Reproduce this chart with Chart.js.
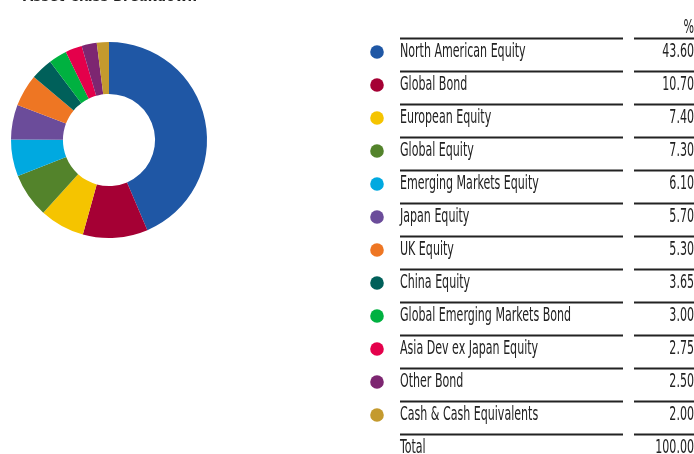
<!DOCTYPE html>
<html>
<head>
<meta charset="utf-8">
<script src="https://cdn.jsdelivr.net/npm/chart.js@4"></script>
<style>
  html, body { margin: 0; padding: 0; background: #fff; }
  #wrap { position: relative; width: 694px; height: 454px; }
</style>
</head>
<body>
<div id="wrap"><canvas id="assetChart" width="694" height="454"></canvas></div>
<script>
// Datos del gráfico
var categories = [
  "North American Equity",
  "Global Bond",
  "European Equity",
  "Global Equity",
  "Emerging Markets Equity",
  "Japan Equity",
  "UK Equity",
  "China Equity",
  "Global Emerging Markets Bond",
  "Asia Dev ex Japan Equity",
  "Other Bond",
  "Cash & Cash Equivalents",
];
var weights = [43.6, 10.7, 7.4, 7.3, 6.1, 5.7, 5.3, 3.65, 3.0, 2.75, 2.5, 2.0];
var totalLabel = "Total";
var totalValue = 100.0;
var chartTitle = "Asset Class Breakdown";
var unitHeader = "%";

var sliceColors = [
  "#1f57a5", "#a50034", "#f5c400", "#53832b", "#00a9e0", "#6b4c9a",
  "#ee7623", "#00605a", "#00b140", "#e4004b", "#7d2671", "#c49a2e",
];

var narrowFont = '"Liberation Sans Narrow", "DejaVu Sans Condensed", Arial, sans-serif';

// Tabla de leyenda dibujada en el canvas
var tablePlugin = {
  id: "legendTable",
  afterDraw: function (chart) {
    var c = chart.ctx;
    var rowH = 33.0;
    var top = 38.5;
    var sx = 0.615;

    function txt(s, x, y, align) {
      c.save();
      c.translate(x, y);
      c.scale(sx, 1);
      c.textAlign = align;
      c.fillText(s, 0, 0);
      c.restore();
    }

    c.save();
    // título (cortado arriba)
    c.fillStyle = "#222";
    c.font = "bold 17px " + narrowFont;
    c.textBaseline = "alphabetic";
    c.save();
    c.translate(23, 0.5);
    c.scale(0.87, 1);
    c.fillText(chartTitle, 0, 0);
    c.restore();

    c.font = "20px " + narrowFont;
    c.fillStyle = "#222";
    txt(unitHeader, 694, 33, "right");

    var n = categories.length;
    for (var i = 0; i <= n; i++) {
      var y = top + i * rowH;
      c.strokeStyle = "#222";
      c.lineWidth = 2;
      c.beginPath();
      c.moveTo(400, y);
      c.lineTo(623, y);
      c.moveTo(634, y);
      c.lineTo(694, y);
      c.stroke();

      var label, value;
      if (i < n) {
        label = categories[i];
        value = weights[i].toFixed(2);
        c.fillStyle = sliceColors[i];
        c.beginPath();
        c.arc(377, y + 13.5, 6.8, 0, Math.PI * 2);
        c.fill();
      } else {
        label = totalLabel;
        value = totalValue.toFixed(2);
      }
      c.fillStyle = "#222";
      txt(label, 400, y + 18, "left");
      txt(value, 694, y + 18, "right");
    }
    c.restore();
  },
};

var ctx = document.getElementById("assetChart").getContext("2d");
var assetChart = new Chart(ctx, {
  type: "doughnut",
  data: {
    labels: categories,
    datasets: [
      {
        data: weights,
        backgroundColor: sliceColors,
        borderWidth: 0,
        hoverOffset: 0,
      },
    ],
  },
  options: {
    responsive: false,
    animation: false,
    cutout: "47%",
    events: [],
    layout: {
      padding: { left: 11, top: 42, right: 487, bottom: 216 },
    },
    plugins: {
      legend: { display: false },
      tooltip: { enabled: false },
    },
  },
  plugins: [tablePlugin],
});
</script>
</body>
</html>
